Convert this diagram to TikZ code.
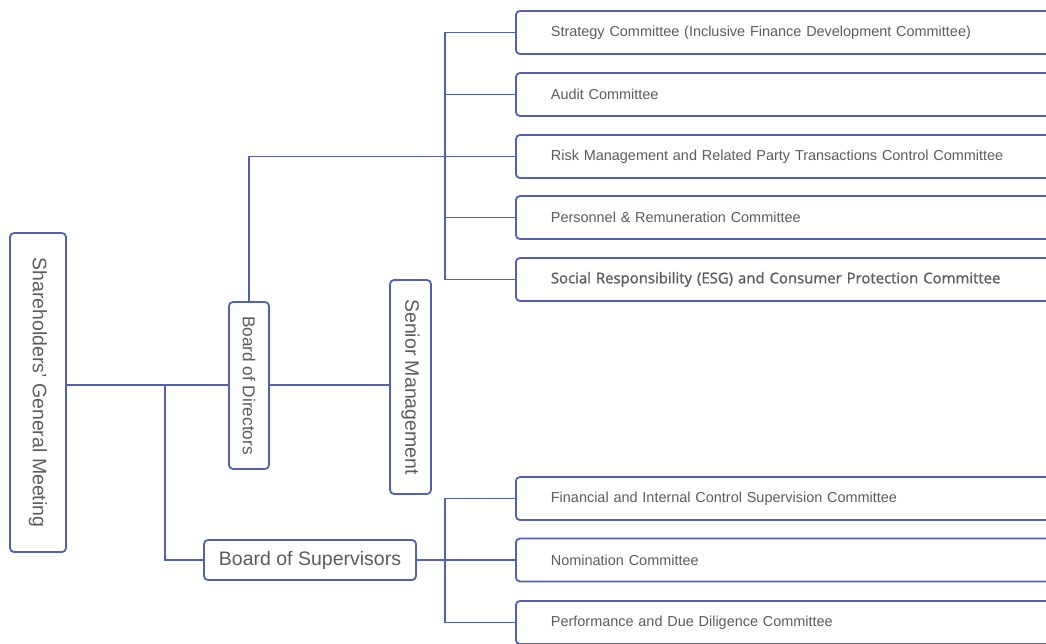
\documentclass[tikz,border=0pt]{standalone}
\usepackage{fontspec}
\setmainfont{Liberation Sans}
\newfontfamily\esgfont{Open Sans}[FakeBold=1.2]
\usepackage{tikz}
\usetikzlibrary{positioning}
\definecolor{orgline}{RGB}{84,97,178}
\definecolor{orgtext}{RGB}{92,92,92}
\tikzset{
  orgbox/.style={draw=orgline,line width=1.8pt,rounded corners=4pt,
    fill=white,text=orgtext,inner sep=0pt},
  committee/.style={orgbox,anchor=west,minimum height=43pt,
    text width=540pt,align=left,inner xsep=35pt,
    font=\fontsize{14.45}{16}\selectfont},
  conn/.style={draw=orgline,line width=1.8pt}
}

\begin{document}
\begin{tikzpicture}[x=1pt,y=-1pt]
\useasboundingbox (0,0) rectangle (1046,643);
\clip (0,0) rectangle (1046,643);
% main bodies
\node[orgbox,minimum width=56pt,minimum height=319pt,
  font=\fontsize{19.5}{22}\selectfont] (sgm) at (38,392.5)
  {\rotatebox{-90}{Shareholders' General Meeting}};
\node[orgbox,minimum width=40pt,minimum height=167pt,
  font=\fontsize{17.2}{19}\selectfont] (bod) at (249,385.5)
  {\rotatebox{-90}{Board of Directors}};
\node[orgbox,minimum width=41pt,minimum height=214pt,
  font=\fontsize{19.5}{22}\selectfont] (sm) at (410.5,387)
  {\rotatebox{-90}{Senior Management}};
\node[orgbox,minimum width=212pt,minimum height=40pt,
  font=\fontsize{19.5}{22}\selectfont] (bos) at (310,560)
  {Board of Supervisors};
% board committees
\node[committee] (strat) at (515,32.5)
  {Strategy Committee (Inclusive Finance Development Committee)};
\node[committee] (audit) at (515,94.5) {Audit Committee};
\node[committee] (risk) at (515,156.5)
  {Risk Management and Related Party Transactions Control Committee};
\node[committee] (pers) at (515,217.5) {Personnel \& Remuneration Committee};
\node[committee,font=\esgfont\fontsize{14.9}{16}\selectfont] (esg) at (515,279.5)
  {Social Responsibility (ESG) and Consumer Protection Committee};
% supervisory committees
\node[committee] (fin) at (515,498.5)
  {Financial and Internal Control Supervision Committee};
\node[committee] (nom) at (515,560) {Nomination Committee};
\node[committee] (perf) at (515,622.5) {Performance and Due Diligence Committee};
% connectors
\coordinate (split) at (165,385);
\draw[conn] (sgm.east |- split) -- (bod.west |- split);
\draw[conn] (split) |- (bos.west);
\draw[conn] (bod.east |- split) -- (sm.west |- split);
\draw[conn] (bod.north) |- (risk.west);
\draw[conn] (strat.west) -- ++(-70,0) |- (esg.west);
\draw[conn] (audit.west) -- ++(-70,0);
\draw[conn] (pers.west) -- ++(-70,0);
\draw[conn] (fin.west) -- ++(-70,0) |- (perf.west);
\draw[conn] (bos.east) -- (nom.west);
\end{tikzpicture}
\end{document}
